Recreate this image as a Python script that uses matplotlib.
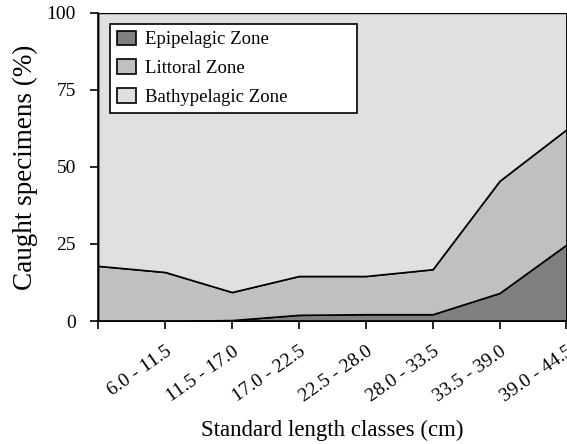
import matplotlib
matplotlib.use("Agg")
import matplotlib.pyplot as plt
import numpy as np

plt.rcParams['font.family'] = ['Liberation Serif', 'DejaVu Serif']

# length classes (labels sit on ticks 1..7)
classes = ["6.0 - 11.5", "11.5 - 17.0", "17.0 - 22.5", "22.5 - 28.0",
           "28.0 - 33.5", "33.5 - 39.0", "39.0 - 44.5"]
# percentage caught per zone (8 points)
epipelagic = [0, 0, 0.3, 2.0, 2.2, 2.2, 9.1, 24.8]
littoral_cum = [17.9, 15.9, 9.4, 14.6, 14.6, 16.8, 45.5, 62.2]

x = np.arange(len(epipelagic))
epi = np.array(epipelagic)
lit = np.array(littoral_cum) - epi
bathy = 100 - np.array(littoral_cum)

fig = plt.figure(figsize=(5.67, 4.44), dpi=100)
ax = fig.add_axes([0.173, 0.277, 0.826, 0.694])

ax.stackplot(x, epi, lit, bathy,
             colors=['#808080', '#c0c0c0', '#e0e0e0'],
             edgecolor='black', linewidth=1.2,
             labels=['Epipelagic Zone', 'Littoral Zone', 'Bathypelagic Zone'])

ax.set_xlim(0, 7)
ax.set_ylim(0, 100)
ax.set_yticks([0, 25, 50, 75, 100])
ax.set_xticks(x)
ax.set_xticklabels([""] + classes, rotation=35, ha='right', rotation_mode='anchor')
ax.tick_params(direction='out', length=6, width=1.2, labelsize=14)
ax.tick_params(axis='x', pad=10)
ax.tick_params(axis='y', pad=10)

for s in ['top', 'right']:
    ax.spines[s].set_visible(False)
for s in ['left', 'bottom']:
    ax.spines[s].set_linewidth(1.2)

ax.set_ylabel("Caught specimens (%)", fontsize=19.5, labelpad=6)
ax.set_xlabel("Standard length classes (cm)", fontsize=16.5, labelpad=10)

leg = ax.legend(loc='upper left', fontsize=13.5, fancybox=False, framealpha=1,
                edgecolor='black', bbox_to_anchor=(0.026, 0.2, 0.526, 0.764),
                mode='expand', borderaxespad=0,
                handlelength=1.0, handleheight=0.8, borderpad=0.35,
                labelspacing=0.6, handletextpad=0.5)
leg.get_frame().set_linewidth(1.2)

fig.savefig("out.png", dpi=100)
